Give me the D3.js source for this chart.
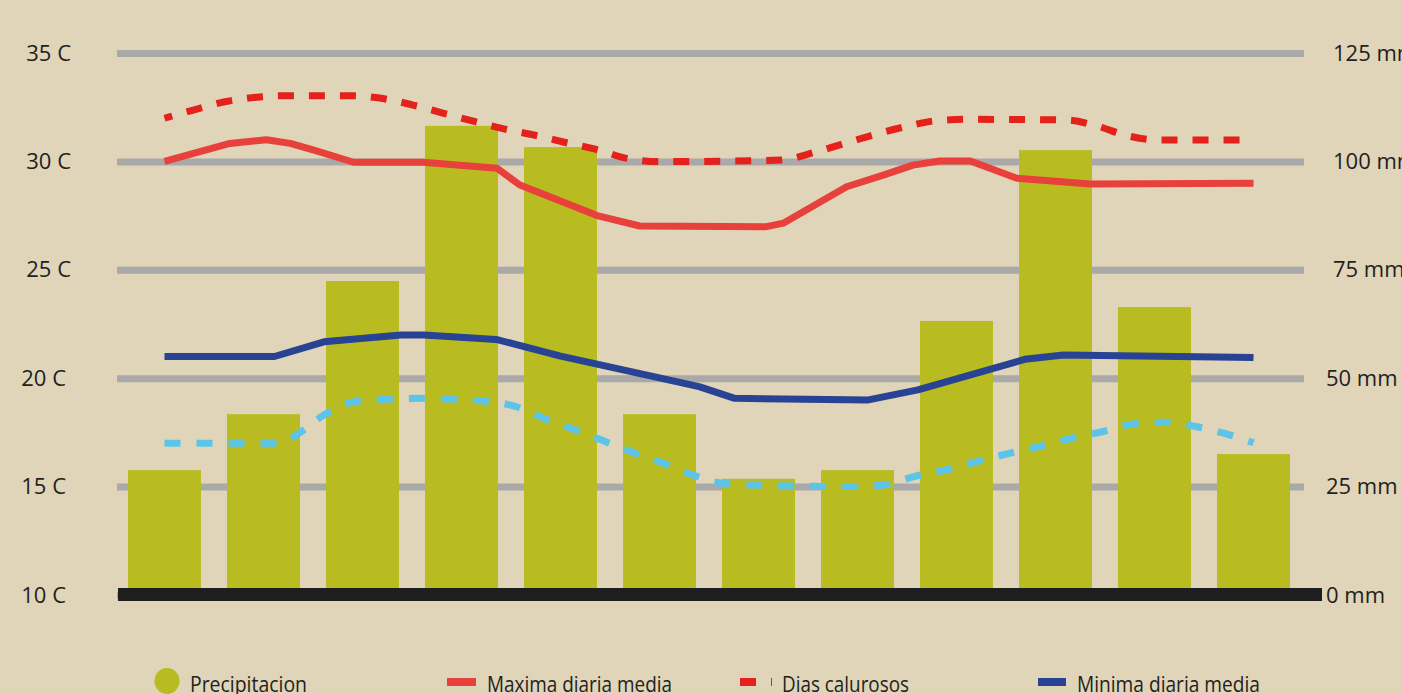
<!DOCTYPE html>
<html>
<head>
<meta charset="utf-8">
<script src="https://cdn.jsdelivr.net/npm/d3@7"></script>
<style>
  html, body { margin: 0; padding: 0; background: #E0D4B9; }
  svg { display: block; }
  text { font-family: "Open Sans", "Noto Sans", sans-serif; fill: #231F20; }
</style>
</head>
<body>
<svg id="chart" width="1402" height="694"></svg>
<script>
// Monthly precipitation (mm)
const months = [1, 2, 3, 4, 5, 6, 7, 8, 9, 10, 11, 12];
const precipitation = [28.8, 41.7, 72.4, 108.2, 103.3, 41.7, 26.8, 28.8, 63.2, 102.6, 66.4, 32.5];

// Temperature curves, sampled along the year (position in months, value in °C)
const maxPos  = [1.0, 1.66, 2.03, 2.27, 2.50, 2.91, 3.61, 4.36, 4.59, 5.37, 5.80, 7.08, 7.25, 7.89, 8.26, 8.56, 8.83, 9.14, 9.61, 10.35, 12.0];
const maxTemp = [30.0, 30.83, 31.0, 30.83, 30.53, 29.96, 29.96, 29.68, 28.91, 27.5, 27.02, 26.99, 27.15, 28.83, 29.37, 29.83, 30.02, 30.02, 29.22, 28.96, 28.99];

const hotPos  = [1.0, 1.29, 1.61, 1.93, 2.23, 2.89, 3.19, 3.51, 3.82, 4.14, 4.44, 4.76, 5.06, 5.38, 5.67, 6.01, 7.22, 7.59, 7.89, 8.19, 8.51, 8.80, 9.10, 10.11, 10.42, 10.72, 11.02, 12.0];
const hotTemp = [31.99, 32.37, 32.75, 32.96, 33.03, 33.03, 32.91, 32.6, 32.22, 31.83, 31.49, 31.19, 30.86, 30.53, 30.14, 29.99, 30.06, 30.45, 30.86, 31.26, 31.63, 31.88, 31.94, 31.91, 31.63, 31.19, 30.99, 30.99];

const minPos  = [1.0, 2.11, 2.61, 3.39, 3.62, 4.35, 4.99, 6.40, 6.76, 8.11, 8.61, 9.69, 10.08, 12.0];
const minTemp = [21.0, 21.0, 21.68, 21.99, 21.99, 21.79, 21.03, 19.61, 19.07, 19.0, 19.46, 20.87, 21.07, 20.95];

const coolPos  = [1.0, 2.15, 2.38, 2.61, 2.92, 3.23, 3.58, 4.28, 4.55, 4.83, 5.15, 5.44, 5.74, 6.06, 6.36, 6.64, 6.99, 7.95, 8.26, 8.57, 8.92, 9.23, 9.54, 9.85, 10.16, 10.47, 10.78, 11.11, 11.43, 11.74, 12.0];
const coolTemp = [17.0, 17.0, 17.53, 18.3, 18.92, 19.03, 19.07, 18.92, 18.69, 18.15, 17.61, 17.1, 16.56, 16.04, 15.5, 15.15, 15.07, 15.0, 15.07, 15.46, 15.8, 16.19, 16.54, 16.87, 17.23, 17.53, 17.89, 17.97, 17.76, 17.41, 17.02];

// Axis ticks
const tempTicks = [10, 15, 20, 25, 30, 35];
const rainTicks = [0, 25, 50, 75, 100, 125];

// Legend entries
const legendLabels = ["Precipitacion", "Maxima diaria media", "Dias calurosos", "Minima diaria media"];

const C = {
  bar: "#B8BC20",
  grid: "#A9A9A9",
  base: "#1E1E1E",
  max: "#E8403A",
  hot: "#E4211A",
  min: "#284294",
  cool: "#5BC4E8"
};

const svg = d3.select("#chart");

const plotLeft = 115, plotRight = 1303;
const xBand = d3.scaleBand().domain(months).range([plotLeft, plotRight])
  .paddingInner(0.263).paddingOuter(0.1315);
const bw = xBand.bandwidth();
const xLine = d3.scaleLinear().domain([1, 12])
  .range([xBand(1) + bw / 2, xBand(12) + bw / 2]);

const yTemp = d3.scaleLinear().domain([10, 35]).range([595, 53]);
const yRain = d3.scaleLinear().domain([0, 125]).range([595, 53]);

// Left axis: temperature with full-width gridlines
const leftAxis = svg.append("g")
  .attr("transform", "translate(117,0)")
  .call(d3.axisLeft(yTemp).tickValues(tempTicks).tickFormat(d => d + " C")
    .tickSize(-1187).tickPadding(46));
leftAxis.select(".domain").remove();
leftAxis.selectAll(".tick line").attr("stroke", C.grid).attr("stroke-width", 7);
leftAxis.selectAll(".tick text")
  .attr("font-size", 22)
  .attr("font-family", "'Open Sans', 'Noto Sans', sans-serif")
  .attr("fill", "#231F20")
  .attr("dx", d => d >= 25 ? 0 : -5);

// Right axis: precipitation labels
const rightAxis = svg.append("g")
  .attr("transform", "translate(1304,0)")
  .call(d3.axisRight(yRain).tickValues(rainTicks).tickFormat(d => d + " mm")
    .tickSize(0).tickPadding(29));
rightAxis.select(".domain").remove();
rightAxis.selectAll(".tick text")
  .attr("font-size", 22)
  .attr("font-family", "'Open Sans', 'Noto Sans', sans-serif")
  .attr("fill", "#231F20")
  .attr("dx", d => d >= 75 ? 0 : -7);

// Precipitation bars
svg.append("g").selectAll("rect")
  .data(months)
  .join("rect")
  .attr("x", d => xBand(d))
  .attr("width", bw)
  .attr("y", (d, i) => yRain(precipitation[i]))
  .attr("height", (d, i) => yRain(0) - yRain(precipitation[i]))
  .attr("fill", C.bar);

// Baseline bar
svg.append("rect")
  .attr("x", 118).attr("width", 1322 - 118)
  .attr("y", yRain(0) - 7).attr("height", 13)
  .attr("fill", C.base);

function drawLine(pos, vals, color, dash, offset, curve) {
  const pts = pos.map((p, i) => [p, vals[i]]);
  const line = d3.line()
    .x(d => xLine(d[0]))
    .y(d => yTemp(d[1]))
    .curve(curve);
  const path = svg.append("path")
    .datum(pts)
    .attr("d", line)
    .attr("fill", "none")
    .attr("stroke", color)
    .attr("stroke-width", 7)
    .attr("stroke-linejoin", "round");
  if (dash) path.attr("stroke-dasharray", dash).attr("stroke-dashoffset", offset);
}

drawLine(coolPos, coolTemp, C.cool, "16 16", 0, d3.curveMonotoneX);
drawLine(minPos, minTemp, C.min, null, 0, d3.curveLinear);
drawLine(maxPos, maxTemp, C.max, null, 0, d3.curveLinear);
drawLine(hotPos, hotTemp, C.hot, "16 15", 8, d3.curveMonotoneX);

// Legend
const lg = svg.append("g");
lg.append("ellipse").attr("cx", 167).attr("cy", 681).attr("rx", 12.5).attr("ry", 13).attr("fill", C.bar);
lg.append("rect").attr("x", 447).attr("y", 678).attr("width", 29).attr("height", 8).attr("fill", C.max);
lg.append("line").attr("x1", 740).attr("x2", 772).attr("y1", 682).attr("y2", 682)
  .attr("stroke", C.hot).attr("stroke-width", 8).attr("stroke-dasharray", "16 15");
lg.append("rect").attr("x", 1038).attr("y", 678).attr("width", 28).attr("height", 8).attr("fill", C.min);

const legendX = [190, 487, 782, 1077];
const legendW = [117, 185, 127, 183];
lg.selectAll("text.lbl")
  .data(legendLabels)
  .join("text")
  .attr("class", "lbl")
  .attr("x", (d, i) => legendX[i])
  .attr("y", 692)
  .attr("font-size", 21)
  .attr("textLength", (d, i) => legendW[i])
  .attr("lengthAdjust", "spacingAndGlyphs")
  .text(d => d);
</script>
</body>
</html>
